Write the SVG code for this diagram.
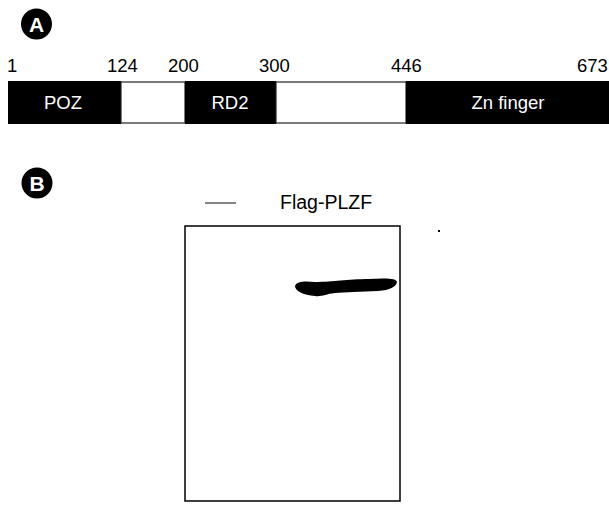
<svg xmlns="http://www.w3.org/2000/svg" width="609" height="505" viewBox="0 0 609 505">
<style>
text{font-family:"Liberation Sans",Arial,sans-serif;font-size:18.5px;fill:#000}
.w{fill:#fff}
.badge{fill:#000}
.bl{font-weight:bold;font-size:21px;fill:#fff;text-anchor:middle}
.c{text-anchor:middle}
</style>
<rect width="609" height="505" fill="#fff"/>
<g id="panelA">
<g id="labelA"><circle class="badge" cx="36.500" cy="24" r="15.500"/><text class="bl" x="36.500" y="31.500">A</text></g>
<g id="ticks">
<text x="7" y="72">1</text>
<text x="107" y="72">124</text>
<text x="168" y="72">200</text>
<text x="259" y="72">300</text>
<text x="391" y="72">446</text>
<text x="577" y="72">673</text>
</g>
<g id="poz"><rect x="8" y="81" width="113" height="43" fill="#000"/><text class="w c" x="63" y="109">POZ</text></g>
<g id="gap1"><rect x="121" y="82" width="64" height="41" fill="#fff" stroke="#222" stroke-width="1.200"/></g>
<g id="rd2"><rect x="185" y="81" width="91" height="43" fill="#000"/><text class="w c" x="230" y="109">RD2</text></g>
<g id="gap2"><rect x="276" y="82" width="130" height="41" fill="#fff" stroke="#222" stroke-width="1.200"/></g>
<g id="zn"><rect x="406" y="81" width="203" height="43" fill="#000"/><text class="w c" x="508" y="109">Zn finger</text></g>
</g>
<g id="panelB">
<g id="labelB"><circle class="badge" cx="37" cy="183" r="15.500"/><text class="bl" x="37" y="190.500">B</text></g>
<line x1="205" y1="203" x2="236" y2="203" stroke="#333" stroke-width="1.200"/>
<text x="280" y="209" style="font-size:19.500px">Flag-PLZF</text>
<g id="blot"><rect x="185" y="226" width="215" height="275" fill="none" stroke="#000" stroke-width="1.500"/>
<path d="M295 286 C297 281 305 281 315 282 C335 282 345 279 370 279 C385 278 397 278 397 282 C396 287 390 290 378 291 C360 292 345 292 335 293 C325 294 322 297 315 296 C303 295 295 291 295 286 Z" fill="#000"/>
</g>
<rect x="438" y="230" width="2" height="2" fill="#000"/>
</g>
</svg>
